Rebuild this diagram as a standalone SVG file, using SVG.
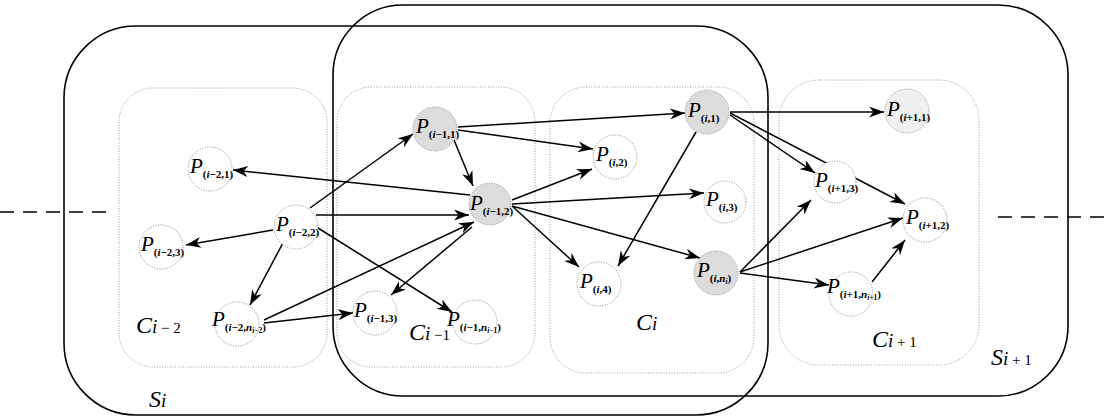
<svg xmlns="http://www.w3.org/2000/svg" width="1105" height="419" viewBox="0 0 1105 419" font-family="'Liberation Serif', 'DejaVu Serif', serif">
<style>
.s{fill:none;stroke:#000;stroke-width:1.6}
.c{fill:none;stroke:#999;stroke-width:1;stroke-dasharray:1 1.6}
.n{fill:#fff;stroke:#888;stroke-width:1;stroke-dasharray:1 1.5}
.g{fill:#dcdcdc}
.lt{fill:#f0f0f0}
.e{fill:none;stroke:#000;stroke-width:1.5;marker-end:url(#ah)}
.d{fill:none;stroke:#000;stroke-width:1.5;stroke-dasharray:14 9}
text{font-family:'Liberation Serif','DejaVu Serif',serif;fill:#000}
.p{font-size:21px;font-style:italic}
.sb{font-size:11px;font-weight:bold;font-style:normal}
.ss{font-size:7.5px}
.it{font-style:italic}
.big{font-size:24px;font-style:italic}
.bi{font-size:19px;font-style:italic}
.bs{font-size:15px;font-style:normal}
</style>
<defs>
<marker id="ah" markerUnits="userSpaceOnUse" markerWidth="17" markerHeight="12" refX="15" refY="5.5" orient="auto">
<path d="M0,0 L15,5.5 L0,11 L4.5,5.5 Z" fill="#000"/>
</marker>
</defs>

<g id="containers">
<g id="S_i"><rect class="s" x="64" y="26" width="704" height="389" rx="72" ry="72"/><text x="149" y="407" class="big">S<tspan class="bi">i</tspan></text></g>
<g id="S_i1"><rect class="s" x="333" y="5" width="735" height="391" rx="70" ry="70"/><text x="991" y="365" class="big">S<tspan class="bi">i</tspan><tspan class="bs"> + 1</tspan></text></g>
<g id="C_im2"><rect class="c" x="119" y="88" width="208" height="279" rx="34" ry="34"/><text x="136" y="333" class="big">C<tspan class="bi">i</tspan><tspan class="bs"> − 2</tspan></text></g>
<g id="C_im1"><rect class="c" x="337" y="87" width="198" height="280" rx="34" ry="34"/><text x="409" y="340" class="big">C<tspan class="bi">i</tspan><tspan class="bs"> −1</tspan></text></g>
<g id="C_i"><rect class="c" x="550" y="87" width="204" height="286" rx="36" ry="36"/><text x="636" y="330" class="big">C<tspan class="bi">i</tspan></text></g>
<g id="C_ip1"><rect class="c" x="779" y="80" width="200" height="285" rx="40" ry="40"/><text x="872" y="347" class="big">C<tspan class="bi">i</tspan><tspan class="bs"> + 1</tspan></text></g>
</g>

<g id="dashes">
<line class="d" x1="0" y1="212" x2="112" y2="212"/>
<line class="d" x1="998" y1="217" x2="1105" y2="217"/>
</g>

<g id="connectors">
<line class="e" x1="470" y1="195" x2="233" y2="170"/>
<line class="e" x1="310" y1="208" x2="413" y2="134"/>
<line class="e" x1="316" y1="215" x2="469" y2="215"/>
<line class="e" x1="273" y1="230" x2="186" y2="245"/>
<line class="e" x1="284" y1="241" x2="250" y2="305"/>
<line class="e" x1="318" y1="228" x2="452" y2="312"/>
<line class="e" x1="264" y1="320" x2="474" y2="222"/>
<line class="e" x1="264" y1="323" x2="353" y2="313"/>
<line class="e" x1="472" y1="227" x2="391" y2="295"/>
<line class="e" x1="458" y1="127" x2="685" y2="113"/>
<line class="e" x1="458" y1="130" x2="593" y2="149"/>
<line class="e" x1="454" y1="140" x2="473" y2="186"/>
<line class="e" x1="512" y1="200" x2="592" y2="169"/>
<line class="e" x1="512" y1="204" x2="704" y2="193"/>
<line class="e" x1="512" y1="206" x2="579" y2="267"/>
<line class="e" x1="512" y1="206" x2="700" y2="258"/>
<line class="e" x1="696" y1="132" x2="618" y2="266"/>
<line class="e" x1="730" y1="112" x2="884" y2="112"/>
<line class="e" x1="730" y1="115" x2="815" y2="173"/>
<line class="e" x1="730" y1="113" x2="905" y2="204"/>
<line class="e" x1="740" y1="272" x2="811" y2="200"/>
<line class="e" x1="740" y1="272" x2="903" y2="218"/>
<line class="e" x1="740" y1="273" x2="829" y2="285"/>
<line class="e" x1="872" y1="282" x2="905" y2="240"/>
</g>

<g id="P_im2_1"><circle class="n" cx="210" cy="169" r="22"/><text x="190" y="173" class="p">P<tspan class="sb" dy="5">(<tspan class="it">i</tspan>−2,1)</tspan></text></g>
<g id="P_im2_2"><circle class="n" cx="296" cy="227" r="22"/><text x="276" y="231" class="p">P<tspan class="sb" dy="5">(<tspan class="it">i</tspan>−2,2)</tspan></text></g>
<g id="P_im2_3"><circle class="n" cx="161" cy="247" r="22"/><text x="141" y="251" class="p">P<tspan class="sb" dy="5">(<tspan class="it">i</tspan>−2,3)</tspan></text></g>
<g id="P_im2_n"><circle class="n" cx="237" cy="324" r="22"/><text x="212" y="326" class="p">P<tspan class="sb" dy="5">(<tspan class="it">i</tspan>−2,<tspan class="it">n</tspan><tspan class="ss" dy="2"><tspan class="it">i</tspan>−2</tspan><tspan dy="-2">)</tspan></tspan></text></g>
<g id="P_im1_1"><circle class="n g" cx="435" cy="129" r="22"/><text x="416" y="133" class="p">P<tspan class="sb" dy="5">(<tspan class="it">i</tspan>−1,1)</tspan></text></g>
<g id="P_im1_2"><circle class="n g" cx="490" cy="204" r="21"/><text x="470" y="210" class="p">P<tspan class="sb" dy="5">(<tspan class="it">i</tspan>−1,2)</tspan></text></g>
<g id="P_im1_3"><circle class="n" cx="375" cy="313" r="22"/><text x="354" y="317" class="p">P<tspan class="sb" dy="5">(<tspan class="it">i</tspan>−1,3)</tspan></text></g>
<g id="P_im1_n"><circle class="n" cx="475" cy="322" r="22"/><text x="447" y="326" class="p">P<tspan class="sb" dy="5">(<tspan class="it">i</tspan>−1,<tspan class="it">n</tspan><tspan class="ss" dy="2"><tspan class="it">i</tspan>−1</tspan><tspan dy="-2">)</tspan></tspan></text></g>
<g id="P_i_1"><circle class="n g" cx="707" cy="112" r="22"/><text x="688" y="117" class="p">P<tspan class="sb" dy="5">(<tspan class="it">i</tspan>,1)</tspan></text></g>
<g id="P_i_2"><circle class="n" cx="615" cy="157" r="22"/><text x="596" y="161" class="p">P<tspan class="sb" dy="5">(<tspan class="it">i</tspan>,2)</tspan></text></g>
<g id="P_i_3"><circle class="n" cx="725" cy="202" r="21"/><text x="706" y="206" class="p">P<tspan class="sb" dy="5">(<tspan class="it">i</tspan>,3)</tspan></text></g>
<g id="P_i_4"><circle class="n" cx="599" cy="284" r="22"/><text x="580" y="288" class="p">P<tspan class="sb" dy="5">(<tspan class="it">i</tspan>,4)</tspan></text></g>
<g id="P_i_n"><circle class="n g" cx="716" cy="273" r="22"/><text x="697" y="277" class="p">P<tspan class="sb" dy="5">(<tspan class="it">i</tspan>,<tspan class="it">n</tspan><tspan class="ss" dy="2" font-style="italic">i</tspan><tspan dy="-2">)</tspan></tspan></text></g>
<g id="P_ip1_1"><circle class="n lt" cx="907" cy="111" r="22"/><text x="887" y="116" class="p">P<tspan class="sb" dy="5">(<tspan class="it">i</tspan>+1,1)</tspan></text></g>
<g id="P_ip1_3"><circle class="n" cx="835" cy="182" r="21"/><text x="815" y="187" class="p">P<tspan class="sb" dy="5">(<tspan class="it">i</tspan>+1,3)</tspan></text></g>
<g id="P_ip1_2"><circle class="n" cx="925" cy="220" r="22"/><text x="906" y="224" class="p">P<tspan class="sb" dy="5">(<tspan class="it">i</tspan>+1,2)</tspan></text></g>
<g id="P_ip1_n"><circle class="n" cx="851" cy="294" r="22"/><text x="827" y="293" class="p">P<tspan class="sb" dy="5">(<tspan class="it">i</tspan>+1,<tspan class="it">n</tspan><tspan class="ss" dy="2"><tspan class="it">i</tspan>+1</tspan><tspan dy="-2">)</tspan></tspan></text></g>
</svg>
